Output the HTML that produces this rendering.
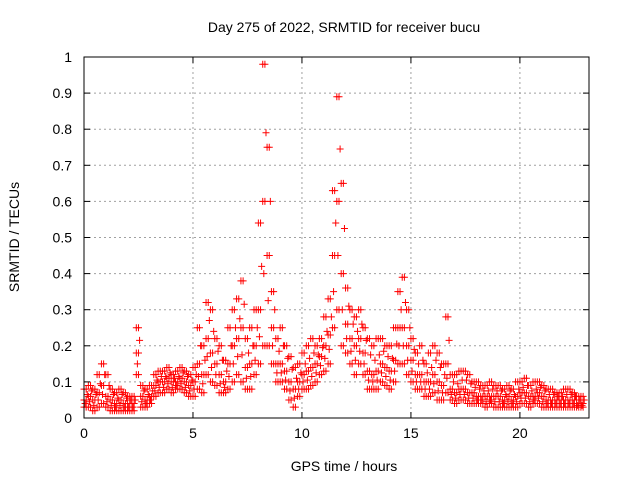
<!DOCTYPE html>
<html><head><meta charset="utf-8"><style>
body{margin:0;background:#fff}
svg text{font-family:"Liberation Sans",sans-serif;font-size:14px;fill:#000}
</style></head><body>
<svg id="chart" width="640" height="480" viewBox="0 0 640 480" xmlns="http://www.w3.org/2000/svg">
<rect width="640" height="480" fill="#fff"/>
<text x="344" y="32" text-anchor="middle">Day 275 of 2022, SRMTID for receiver bucu</text>
<text x="344" y="471" text-anchor="middle">GPS time / hours</text>
<text x="0" y="0" text-anchor="middle" transform="translate(19,237) rotate(-90)">SRMTID / TECUs</text>
<g id="grid"></g><g id="marks"></g><g id="axes"></g>
</svg>
<script>
const xTicks=[0,5,10,15,20];
const yTicks=[0,0.1,0.2,0.3,0.4,0.5,0.6,0.7,0.8,0.9,1];
const yTickLabels=["0","0.1","0.2","0.3","0.4","0.5","0.6","0.7","0.8","0.9","1"];
const times=[0,0.2,0.4,0.6,0.8,1,1.2,1.4,1.6,1.8,2,2.2,2.4,2.6,2.8,3,3.2,3.4,3.6,3.8,4,4.2,4.4,4.6,4.8,5,5.2,5.4,5.6,5.8,6,6.2,6.4,6.6,6.8,7,7.2,7.4,7.6,7.8,8,8.2,8.4,8.6,8.8,9,9.2,9.4,9.6,9.8,10,10.2,10.4,10.6,10.8,11,11.2,11.4,11.6,11.8,12,12.2,12.4,12.6,12.8,13,13.2,13.4,13.6,13.8,14,14.2,14.4,14.6,14.8,15,15.2,15.4,15.6,15.8,16,16.2,16.4,16.6,16.8,17,17.2,17.4,17.6,17.8,18,18.2,18.4,18.6,18.8,19,19.2,19.4,19.6,19.8,20,20.2,20.4,20.6,20.8,21,21.2,21.4,21.6,21.8,22,22.2,22.4,22.6,22.8];
const lo=[.03,.03,.02,.03,.04,.03,.02,.02,.02,.02,.02,.02,.12,.03,.03,.04,.06,.07,.07,.08,.07,.08,.08,.07,.06,.06,.08,.07,.12,.10,.09,.07,.07,.08,.10,.12,.10,.08,.08,.12,.15,.20,.20,.15,.10,.10,.08,.05,.03,.06,.08,.08,.09,.10,.12,.13,.15,.25,.30,.20,.18,.15,.12,.15,.12,.08,.08,.08,.10,.09,.08,.10,.15,.15,.12,.10,.08,.08,.06,.06,.07,.05,.05,.07,.05,.04,.05,.05,.04,.04,.04,.04,.03,.04,.03,.03,.03,.03,.03,.03,.04,.04,.03,.04,.04,.03,.03,.03,.03,.03,.03,.03,.03,.03,.03];
const mid=[.05,.06,.05,.07,.09,.06,.05,.04,.05,.04,.04,.04,.18,.06,.05,.06,.09,.10,.10,.11,.10,.10,.11,.10,.09,.10,.15,.12,.22,.18,.15,.12,.10,.15,.20,.22,.25,.14,.15,.20,.30,.60,.45,.25,.15,.15,.13,.10,.08,.10,.12,.13,.14,.15,.17,.20,.23,.45,.60,.40,.26,.22,.20,.22,.18,.13,.12,.13,.15,.14,.13,.16,.25,.25,.20,.16,.12,.12,.10,.10,.12,.10,.09,.15,.08,.07,.08,.08,.07,.07,.06,.06,.06,.06,.06,.06,.05,.06,.05,.06,.07,.07,.06,.06,.07,.06,.05,.05,.05,.05,.05,.05,.05,.04,.04];
const hi=[.08,.09,.08,.12,.15,.12,.08,.07,.08,.07,.06,.06,.25,.09,.08,.09,.12,.13,.13,.14,.12,.13,.14,.13,.12,.14,.25,.20,.32,.30,.22,.20,.16,.25,.30,.33,.38,.22,.25,.30,.54,.98,.75,.35,.22,.25,.20,.17,.14,.15,.18,.20,.22,.20,.22,.28,.33,.63,.89,.65,.36,.30,.28,.30,.25,.22,.20,.22,.22,.20,.20,.25,.35,.39,.30,.22,.18,.20,.15,.18,.20,.18,.15,.28,.12,.12,.13,.13,.12,.10,.10,.09,.09,.10,.09,.09,.08,.09,.08,.10,.10,.11,.09,.10,.10,.09,.08,.08,.07,.07,.08,.08,.07,.06,.06];
const L=84,R=589,T=57,B=418;
const xs=t=>L+t*(R-L)/23.17;
const ys=v=>B-v*(B-T);
const NS="http://www.w3.org/2000/svg";
const grid=document.getElementById('grid'),axes=document.getElementById('axes'),marks=document.getElementById('marks');
function mk(tag,attrs,parent){const e=document.createElementNS(NS,tag);for(const k in attrs)e.setAttribute(k,attrs[k]);parent.appendChild(e);return e;}
xTicks.forEach(t=>{const x=xs(t);
 const g=mk('line',{x1:x,x2:x,y1:T,y2:B,stroke:'#a0a0a0','stroke-dasharray':'2,3'},grid);
 
 
 mk('line',{x1:x,x2:x,y1:B,y2:B-6,stroke:'#000'},axes);
 mk('line',{x1:x,x2:x,y1:T,y2:T+6,stroke:'#000'},axes);
 const tx=mk('text',{x:x,y:B+20,'text-anchor':'middle'},axes);tx.textContent=t;
 
 
});
yTicks.forEach((v,i)=>{const y=ys(v);
 const g=mk('line',{x1:L,x2:R,y1:y,y2:y,stroke:'#a0a0a0','stroke-dasharray':'2,3'},grid);
 
 
 mk('line',{x1:L,x2:L+6,y1:y,y2:y,stroke:'#000'},axes);
 mk('line',{x1:R,x2:R-6,y1:y,y2:y,stroke:'#000'},axes);
 const tx=mk('text',{x:L-12,y:y+5,'text-anchor':'end'},axes);tx.textContent=yTickLabels[i];
 
 
});
const frame=mk('rect',{x:L,y:T,width:R-L,height:B-T,fill:'none',stroke:'#000'},axes);


function plus(t,v,color){const x=xs(t),y=ys(v);
 const p=mk('path',{d:`M${x-3.5} ${y}H${x+3.5}M${x} ${y-3.5}V${y+3.5}`,stroke:color,'stroke-width':1,fill:'none'},marks);
 
 
}
times.forEach((t,i)=>{
 [lo[i],mid[i],hi[i]].forEach(v=>{plus(t,v,'red');plus(t+0.1,v,'red');});
 plus(t+0.05,(lo[i]+mid[i])/2,'red');plus(t+0.15,(mid[i]+hi[i])/2,'red');
});
</script>
</body></html>
